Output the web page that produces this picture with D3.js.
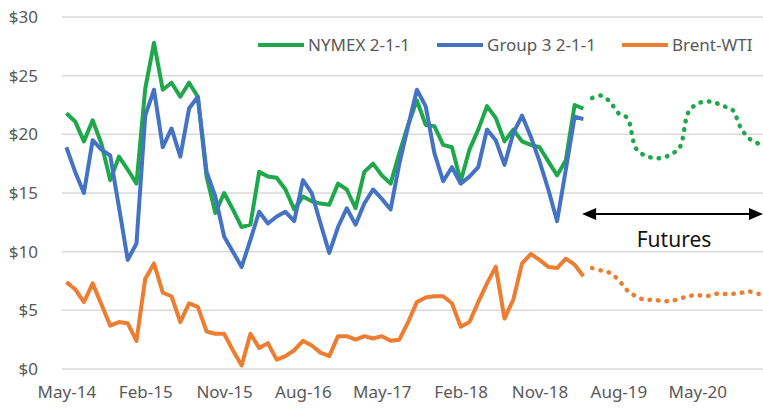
<!DOCTYPE html>
<html>
<head>
<meta charset="utf-8">
<script src="https://cdn.jsdelivr.net/npm/d3@7"></script>
<style>
body { margin: 0; background: #fff; }
text { font-family: "Noto Sans", "Open Sans", sans-serif; }
</style>
</head>
<body>
<div id="chart"></div>
<script>
// months are counted from May-14 (index 0) to Dec-20 (index 79)
const tickMonths = [0, 9, 18, 27, 36, 45, 54, 63, 72];
const tickLabels = ["May-14", "Feb-15", "Nov-15", "Aug-16", "May-17", "Feb-18", "Nov-18", "Aug-19", "May-20"];
const yTicks = [0, 5, 10, 15, 20, 25, 30];

// history, May-14 .. Apr-19
const nymex = [21.8, 21.1, 19.4, 21.2, 19.2, 16.1, 18.1, 17.0, 15.8, 23.9,
  27.8, 23.8, 24.4, 23.2, 24.4, 23.2, 16.4, 13.3, 15.0, 13.6,
  12.1, 12.3, 16.8, 16.4, 16.3, 15.3, 13.6, 14.7, 14.3, 14.1,
  14.0, 15.8, 15.3, 13.7, 16.8, 17.5, 16.5, 15.8, 18.4, 20.8,
  22.9, 20.8, 20.7, 19.1, 18.9, 16.0, 18.7, 20.4, 22.4, 21.4,
  19.4, 20.4, 19.4, 19.1, 18.9, 17.7, 16.5, 17.8, 22.5, 22.2];
const group3 = [18.9, 16.8, 15.0, 19.5, 18.7, 18.2, 13.8, 9.3, 10.7, 21.6,
  23.8, 18.9, 20.5, 18.1, 22.2, 23.2, 16.8, 14.7, 11.3, 10.0,
  8.7, 11.0, 13.4, 12.4, 13.0, 13.4, 12.6, 16.1, 15.0, 12.4,
  9.9, 12.1, 13.7, 12.3, 14.1, 15.3, 14.5, 13.6, 17.5, 20.7,
  23.8, 22.4, 18.4, 16.0, 17.2, 15.8, 16.4, 17.2, 20.4, 19.5,
  17.4, 20.1, 21.6, 19.8, 17.7, 15.3, 12.6, 17.0, 21.5, 21.3];
const brentWti = [7.4, 6.8, 5.7, 7.3, 5.5, 3.7, 4.0, 3.9, 2.4, 7.7,
  9.0, 6.5, 6.2, 4.0, 5.6, 5.3, 3.2, 3.0, 3.0, 1.6,
  0.3, 3.0, 1.8, 2.2, 0.8, 1.1, 1.6, 2.4, 2.0, 1.4,
  1.1, 2.8, 2.8, 2.5, 2.8, 2.6, 2.8, 2.4, 2.5, 4.0,
  5.7, 6.1, 6.2, 6.2, 5.6, 3.6, 4.0, 5.7, 7.3, 8.7,
  4.3, 5.9, 9.0, 9.8, 9.3, 8.7, 8.6, 9.4, 8.9, 7.9];

// futures, May-19 .. Dec-20
const futuresStart = 60;
const nymexFut = [23.1, 23.3, 22.8, 21.8, 21.4, 18.8, 18.2, 18.0, 18.0, 18.3,
  18.9, 21.9, 22.6, 22.8, 22.7, 22.4, 22.1, 20.5, 19.6, 19.2];
const brentFut = [8.6, 8.4, 8.2, 7.6, 6.7, 6.2, 5.9, 5.9, 5.8, 5.8,
  6.0, 6.2, 6.3, 6.2, 6.4, 6.4, 6.4, 6.5, 6.6, 6.4];

const svgWidth = 763, svgHeight = 412;
const green = "#1ea84b", blue = "#4472c4", orange = "#ed7d31";

const svg = d3.select("#chart")
  .append("svg")
  .attr("width", svgWidth)
  .attr("height", svgHeight);

const x = d3.scaleLinear().domain([-0.5, 79.5]).range([62, 763]);
const y = d3.scaleLinear().domain([0, 30]).range([369, 17]);

// gridlines
svg.append("g")
  .selectAll("line")
  .data(yTicks)
  .enter()
  .append("line")
  .attr("x1", x(-0.5))
  .attr("x2", x(79.5))
  .attr("y1", d => y(d))
  .attr("y2", d => y(d))
  .attr("stroke", "#d9d9d9")
  .attr("stroke-width", 1.5);

// y axis labels
const yAxis = svg.append("g")
  .attr("transform", "translate(38,0)")
  .call(d3.axisLeft(y).tickValues(yTicks).tickFormat(d => "$" + d).tickSize(0).tickPadding(0));
yAxis.select(".domain").remove();
yAxis.selectAll("text")
  .attr("fill", "#595959")
  .style("font-size", "17px")
  .style("font-family", "'Noto Sans', sans-serif");

// x axis labels
const xAxis = svg.append("g")
  .attr("transform", "translate(0,386)")
  .call(d3.axisBottom(x).tickValues(tickMonths).tickFormat((d, i) => tickLabels[i]).tickSize(0).tickPadding(0));
xAxis.select(".domain").remove();
xAxis.selectAll("text")
  .attr("fill", "#595959")
  .style("font-size", "17px")
  .style("font-family", "'Noto Sans', sans-serif");

const line = d3.line()
  .x(d => x(d.m))
  .y(d => y(d.v));

const smooth = d3.line()
  .x(d => x(d.m))
  .y(d => y(d.v))
  .curve(d3.curveCatmullRom);

function toPoints(values, start) {
  return values.map((v, i) => ({ m: start + i, v: v }));
}

// historical lines, orange first so green/blue sit on top
[[brentWti, orange], [nymex, green], [group3, blue]].forEach(function(s) {
  svg.append("path")
    .datum(toPoints(s[0], 0))
    .attr("d", line)
    .attr("fill", "none")
    .attr("stroke", s[1])
    .attr("stroke-width", 4)
    .attr("stroke-linejoin", "round");
});

// futures, dotted and smoothed
[[brentFut, orange], [nymexFut, green]].forEach(function(s) {
  svg.append("path")
    .datum(toPoints(s[0], futuresStart))
    .attr("d", smooth)
    .attr("fill", "none")
    .attr("stroke", s[1])
    .attr("stroke-width", 4.5)
    .attr("stroke-linecap", "round")
    .attr("stroke-dasharray", "0.5,8");
});

// futures arrow
const arrowY = 214;
const ax1 = x(futuresStart) - 10, ax2 = x(79.5);
svg.append("line")
  .attr("x1", ax1 + 8)
  .attr("x2", ax2 - 8)
  .attr("y1", arrowY)
  .attr("y2", arrowY)
  .attr("stroke", "#000")
  .attr("stroke-width", 2);
svg.append("path")
  .attr("d", `M${ax1},${arrowY} l14,-6 l0,12 Z`)
  .attr("fill", "#000");
svg.append("path")
  .attr("d", `M${ax2},${arrowY} l-14,-6 l0,12 Z`)
  .attr("fill", "#000");
svg.append("text")
  .attr("x", 674)
  .attr("y", 247)
  .attr("text-anchor", "middle")
  .attr("fill", "#111")
  .style("font-size", "21px")
  .text("Futures");

// legend
const legend = [
  { name: "NYMEX 2-1-1", color: green, x: 258 },
  { name: "Group 3 2-1-1", color: blue, x: 437 },
  { name: "Brent-WTI", color: orange, x: 622 }
];
const lg = svg.append("g");
legend.forEach(function(d) {
  lg.append("line")
    .attr("x1", d.x)
    .attr("x2", d.x + 46)
    .attr("y1", 45)
    .attr("y2", 45)
    .attr("stroke", d.color)
    .attr("stroke-width", 4);
  lg.append("text")
    .attr("x", d.x + 50)
    .attr("y", 51)
    .attr("fill", "#595959")
    .style("font-size", "17px")
    .text(d.name);
});
</script>
</body>
</html>
